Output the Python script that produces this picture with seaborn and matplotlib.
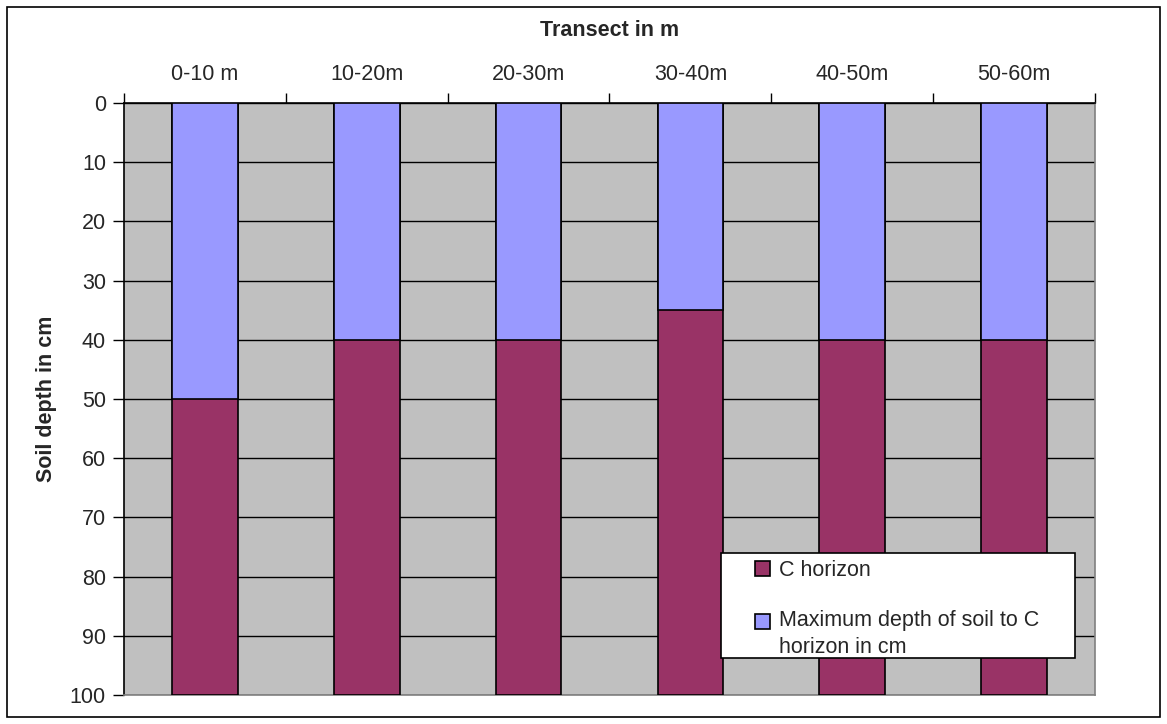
import matplotlib
matplotlib.use("Agg")
import matplotlib.pyplot as plt
from matplotlib.patches import Rectangle, Patch
from matplotlib.legend_handler import HandlerPatch
import seaborn as sns
import pandas as pd
import numpy as np

# Transect segments and soil depth values (cm)
segments = ["0-10 m", "10-20m", "20-30m", "30-40m", "40-50m", "50-60m"]
soil_depth = [50, 40, 40, 35, 40, 40]          # maximum depth of soil to C horizon
c_horizon = [50, 60, 60, 65, 60, 60]           # C horizon thickness down to 100 cm

df = pd.DataFrame({"segment": segments, "soil": soil_depth, "c": c_horizon})
df["total"] = df["soil"] + df["c"]

sns.set_theme(style="white")
plt.rcParams["font.family"] = ["Liberation Sans", "DejaVu Sans"]
FS = 15.5

W, H = 1167, 724
fig = plt.figure(figsize=(W / 100, H / 100), dpi=100)
ax = fig.add_axes([124 / W, 1 - 695 / H, (1095 - 124) / W, (695 - 103) / H])
ax.set_facecolor("#C0C0C0")

maroon = "#993366"
lilac = "#9999FF"

# Stacked columns: the full column in maroon, soil layer drawn over its upper part
sns.barplot(data=df, x="segment", y="total", color=maroon, width=0.405,
            edgecolor="black", linewidth=1.2, saturation=1, ax=ax, zorder=3)
sns.barplot(data=df, x="segment", y="soil", color=lilac, width=0.405,
            edgecolor="black", linewidth=1.2, saturation=1, ax=ax, zorder=4)

ax.set_ylim(100, 0)
ax.set_xlim(-0.5, len(segments) - 0.5)
ax.set_yticks(np.arange(0, 101, 10))
ax.yaxis.grid(True, color="black", linewidth=1.0)
ax.set_axisbelow(True)

# Category axis on top, labels between tick marks
ax.xaxis.tick_top()
ax.xaxis.set_label_position("top")
ax.set_xticks(range(len(segments)))
ax.set_xticklabels(segments, fontsize=FS)
ax.tick_params(axis="x", which="major", length=0, pad=13)
ax.set_xticks(np.arange(-0.5, len(segments), 1), minor=True)
ax.tick_params(axis="x", which="minor", length=7, width=1, color="black", top=True, bottom=False)
ax.tick_params(axis="y", length=8, width=1, color="black", labelsize=FS, left=True, pad=5)

ax.set_xlabel("Transect in m", fontsize=FS, fontweight="bold", labelpad=20)
ax.set_ylabel("Soil depth in cm", fontsize=FS, fontweight="bold", labelpad=9)

for side in ["left", "top"]:
    ax.spines[side].set_color("black")
    ax.spines[side].set_linewidth(1.2)
for side in ["right", "bottom"]:
    ax.spines[side].set_color("#808080")
    ax.spines[side].set_linewidth(1.2)


def square_on_first_line(legend, orig_handle, xdescent, ydescent, width, height, fontsize):
    # keep the key square level with the first line of a two-line label
    return Rectangle((-xdescent, -ydescent + 0.62 * fontsize), width, height)


# Legend: white box with entries set in from the left edge
fig.patches.append(Rectangle((721 / W, 1 - 658 / H), (1075 - 721) / W, (658 - 553) / H,
                             transform=fig.transFigure, facecolor="white",
                             edgecolor="black", linewidth=1.2, zorder=5))
h_c = Patch(facecolor=maroon, edgecolor="black", linewidth=1.2)
h_soil = Patch(facecolor=lilac, edgecolor="black", linewidth=1.2)
labels = ["C horizon", "Maximum depth of soil to C\nhorizon in cm"]
leg = fig.legend([h_c, h_soil], labels, loc="upper left",
                 bbox_to_anchor=(755 / W, 1 - 560 / H), fontsize=FS,
                 frameon=False, handlelength=0.7, handleheight=0.7,
                 handletextpad=0.4, labelspacing=1.35, borderpad=0,
                 borderaxespad=0,
                 handler_map={h_soil: HandlerPatch(patch_func=square_on_first_line)})
for t in leg.get_texts():
    t.set_linespacing(1.4)
leg.set_zorder(6)
leg._legend_box.align = "left"

# Outer chart border
fig.patches.append(Rectangle((7 / W, 7 / H), 1153 / W, 710 / H,
                             transform=fig.transFigure, fill=False,
                             edgecolor="black", linewidth=1.2))

fig.savefig("out.png", dpi=100)
